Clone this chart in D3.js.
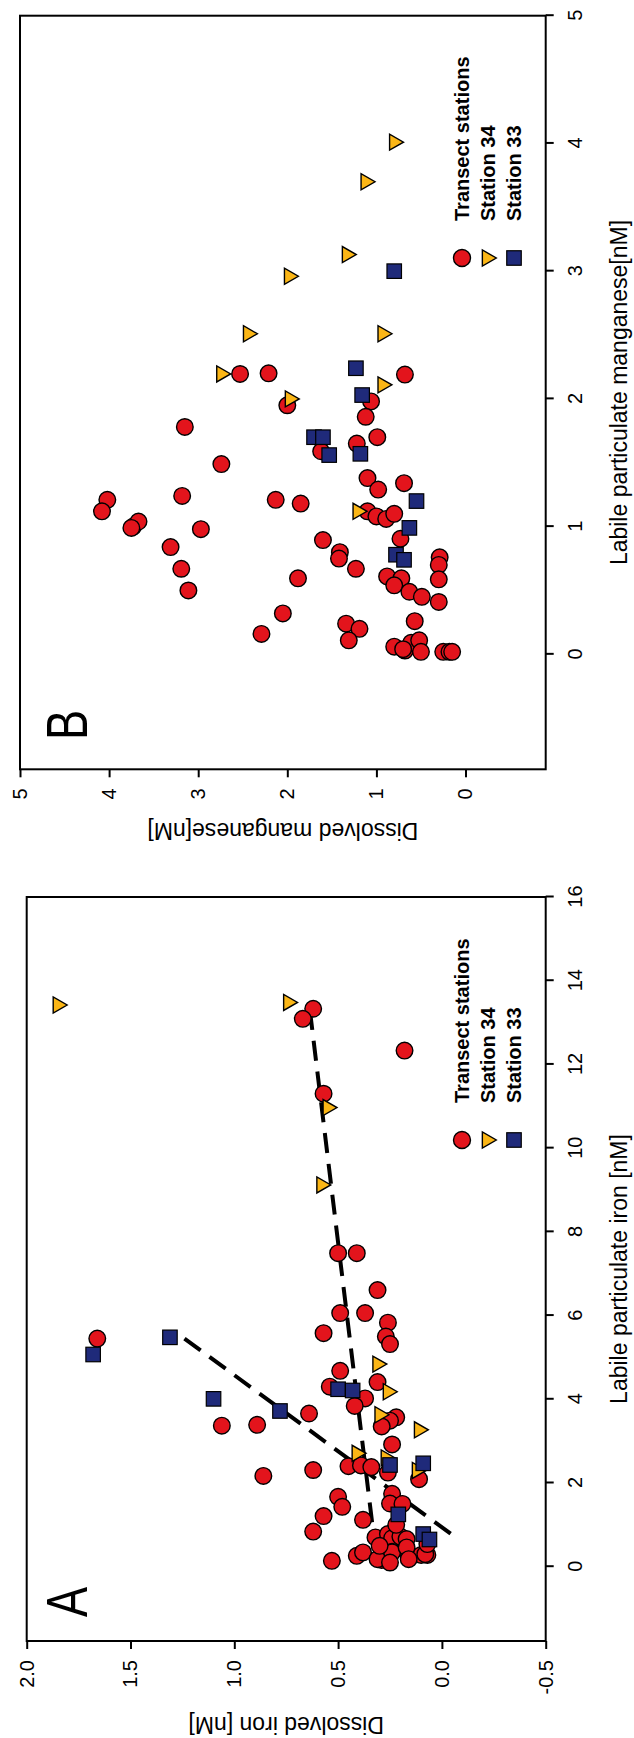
<!DOCTYPE html>
<html><head><meta charset="utf-8">
<script src="https://cdn.jsdelivr.net/npm/d3@7"></script>
<style>body{margin:0;background:#fff;}svg{display:block}</style>
</head><body>
<script>
// ---------- DATA (Panel A: labile particulate Fe [nM] vs dissolved Fe [nM]) ----------
const transectFe = [
 [13.33,0.62],[13.09,0.67],[12.33,0.18],[11.30,0.57],
 [7.49,0.50],[7.49,0.41],[6.61,0.31],[6.06,0.49],[6.06,0.37],[5.83,0.26],[5.58,0.57],[5.50,0.27],[5.32,0.25],[5.45,1.66],
 [4.68,0.49],[4.30,0.54],[4.41,0.31],[4.02,0.37],[3.84,0.42],[3.66,0.64],[3.37,1.06],[3.39,0.89],
 [3.57,0.22],[3.49,0.25],[3.35,0.29],[2.92,0.24],[2.40,0.45],[2.42,0.39],[2.38,0.34],[2.25,0.26],[2.09,0.11],[2.31,0.62],[2.17,0.86],
 [1.67,0.50],[1.43,0.48],[1.74,0.24],[1.51,0.25],[1.50,0.19],[1.21,0.57],[1.12,0.38],[0.84,0.62],
 [0.70,0.32],[0.78,0.26],[0.68,0.24],[0.72,0.20],[0.66,0.17],[1.00,0.22],
 [0.36,0.24],[0.40,0.17],[0.28,0.10],[0.28,0.07],[0.16,0.29],[0.14,0.53],[0.26,0.41],[0.34,0.38],
 [0.18,0.31],[0.34,0.24],[0.10,0.25],[0.46,0.17],[0.18,0.16],[0.30,0.08],[0.54,0.07],[0.50,0.30]
];
const station34Fe = [
 [13.42,1.85],[13.48,0.74],[10.97,0.55],[9.12,0.58],[4.84,0.31],[4.18,0.26],[3.63,0.30],[3.27,0.11],[2.71,0.41],[2.60,0.27],[2.30,0.12]
];
const station33Fe = [
 [5.48,1.31],[5.07,1.68],[4.24,0.50],[4.21,0.43],[4.01,1.10],[3.72,0.78],[2.43,0.25],[2.47,0.09],[1.25,0.21],[0.78,0.09],[0.65,0.06]
];
const fitTransectFe = [[13.3,0.636],[0.6,0.325]];
const fitStation33Fe = [[5.45,1.24],[0.64,-0.083]];
const feXTicks = [0,2,4,6,8,10,12,14,16];
const feYTicks = [-0.5,0.0,0.5,1.0,1.5,2.0];

// ---------- DATA (Panel B: labile particulate Mn [nM] vs dissolved Mn [nM]) ----------
const transectMn = [
 [2.195,2.53],[2.20,2.21],[2.19,0.68],[1.95,2.00],[1.98,1.06],[1.86,1.12],[1.78,3.15],[1.70,0.99],[1.65,1.22],[1.59,1.62],
 [1.49,2.74],[1.38,1.10],[1.29,0.98],[1.34,0.69],[1.24,3.18],[1.21,4.02],[1.12,4.08],[1.21,2.13],[1.18,1.85],[1.12,1.10],
 [1.08,1.00],[1.06,0.89],[1.10,0.80],[1.00,3.73],[1.04,3.67],[0.99,3.75],[0.98,2.97],[0.905,0.73],[0.895,1.60],[0.84,3.31],
 [0.80,1.41],[0.75,1.42],[0.67,1.23],[0.67,3.19],[0.76,0.29],[0.70,0.30],[0.587,0.30],[0.41,0.30],[0.595,1.88],[0.61,0.88],
 [0.595,0.72],[0.54,0.80],[0.50,3.11],[0.49,0.63],[0.45,0.49],[0.32,2.05],[0.16,2.29],[0.24,1.34],[0.20,1.19],[0.11,1.31],
 [0.26,0.57],[0.06,0.80],[0.03,0.68],[0.09,0.61],[0.11,0.52],[0.02,0.50],[0.04,0.70],[0.02,0.25],[0.02,0.18],[0.02,0.15]
];
const station34Mn = [
 [4.01,0.80],[3.70,1.12],[3.13,1.33],[2.96,1.98],[2.51,2.44],[2.51,0.93],[2.195,2.74],[2.11,0.93],[2.00,1.97],[1.12,1.21]
];
const station33Mn = [
 [3.00,0.80],[2.24,1.23],[2.03,1.16],[1.70,1.70],[1.70,1.60],[1.56,1.53],[1.57,1.18],[1.20,0.55],[0.99,0.63],[0.78,0.78],[0.74,0.69]
];
const mnXTicks = [0,1,2,3,4,5];
const mnYTicks = [0,1,2,3,4,5];

const legendLabels = ["Transect stations","Station 34","Station 33"];
const titlesFe = {x:"Labile particulate iron [nM]", y:"Dissolved iron [nM]", tag:"A"};
const titlesMn = {x:"Labile particulate manganese[nM]", y:"Dissolved manganese[nM]", tag:"B"};

// ---------- STYLE ----------
const RED = "#e3141c", YEL = "#fbb616", NAVY = "#1f2a7a";
const FONT = "'Liberation Sans', Arial, Helvetica, sans-serif";

const PW = 634, PH = 1738;
const svg = d3.select("body").append("svg").attr("width",PW).attr("height",PH);
svg.append("rect").attr("width",PW).attr("height",PH).attr("fill","#fff");
// The figure is drawn in its native landscape orientation, then turned a quarter-turn counter-clockwise.
const root = svg.append("g").attr("transform",`translate(0,${PH}) rotate(-90)`);

function triPath(cx, cy, s){ // downward-pointing triangle
  const h = s*0.87;
  return `M${cx - s/2},${cy - h/3}L${cx + s/2},${cy - h/3}L${cx},${cy + 2*h/3}Z`;
}

function drawMarkers(g, data, x, y, kind){
  if(kind==="circle"){
    g.selectAll(null).data(data).join("circle")
      .attr("cx",d=>x(d[0])).attr("cy",d=>y(d[1])).attr("r",8.3)
      .attr("fill",RED).attr("stroke","#000").attr("stroke-width",1.4);
  } else if(kind==="tri"){
    g.selectAll(null).data(data).join("path")
      .attr("d",d=>triPath(x(d[0]),y(d[1]),16))
      .attr("fill",YEL).attr("stroke","#000").attr("stroke-width",1.4).attr("stroke-linejoin","miter");
  } else {
    const s = 14.5;
    g.selectAll(null).data(data).join("rect")
      .attr("x",d=>x(d[0])-s/2).attr("y",d=>y(d[1])-s/2).attr("width",s).attr("height",s)
      .attr("fill",NAVY).attr("stroke","#000").attr("stroke-width",1.2);
  }
}

function panel(cfg){
  const g = root.append("g");
  const x = d3.scaleLinear().domain(cfg.xDomain).range(cfg.xRange);
  const y = d3.scaleLinear().domain(cfg.yDomain).range(cfg.yRange);
  const left = cfg.xRange[0], right = cfg.xRange[1], bottom = cfg.yRange[0], top = cfg.yRange[1];

  // x axis
  const ax = g.append("g").attr("transform",`translate(0,${bottom})`)
    .call(d3.axisBottom(x).tickValues(cfg.xTicks).tickSize(8).tickPadding(14).tickFormat(cfg.xFmt));
  ax.select(".domain").remove();
  ax.attr("font-size",20).attr("font-family",FONT);
  ax.selectAll("line").attr("stroke","#000").attr("stroke-width",2);
  ax.selectAll("text").attr("fill","#000");
  // y axis
  const ay = g.append("g").attr("transform",`translate(${left},0)`)
    .call(d3.axisLeft(y).tickValues(cfg.yTicks).tickSize(8).tickPadding(11).tickFormat(cfg.yFmt));
  ay.select(".domain").remove();
  ay.attr("font-size",20).attr("font-family",FONT);
  ay.selectAll("line").attr("stroke","#000").attr("stroke-width",2);
  ay.selectAll("text").attr("fill","#000");

  // titles
  g.append("text").attr("x",(left+right)/2).attr("y",627).attr("text-anchor","middle")
    .attr("font-family",FONT).attr("font-size",23).text(cfg.titles.x);
  g.append("text").attr("transform",`translate(${cfg.yTitleX},${(top+bottom)/2}) rotate(-90)`)
    .attr("text-anchor","middle").attr("font-family",FONT).attr("font-size",23).text(cfg.titles.y);

  // panel tag
  g.append("text").attr("transform",`translate(${cfg.tagX},87) scale(0.78,1)`)
    .attr("font-family",FONT).attr("font-size",58).text(cfg.titles.tag);

  // fit lines
  const line = d3.line().x(d=>x(d[0])).y(d=>y(d[1]));
  (cfg.fits||[]).forEach(f=>{
    g.append("path").attr("d",line(f)).attr("fill","none").attr("stroke","#000")
      .attr("stroke-width",4).attr("stroke-dasharray","20,11");
  });

  // points
  const pg = g.append("g");
  drawMarkers(pg, cfg.circles, x, y, "circle");
  drawMarkers(pg, cfg.tris, x, y, "tri");
  drawMarkers(pg, cfg.squares, x, y, "square");

  // legend
  const lg = g.append("g");
  const rows = [462,488,514];
  const mx = cfg.legendX, tx = cfg.legendX + 37;
  lg.append("circle").attr("cx",mx).attr("cy",rows[0]).attr("r",8.5).attr("fill",RED).attr("stroke","#000").attr("stroke-width",1.4);
  lg.append("path").attr("d",triPath(mx,rows[1]-1,16)).attr("fill",YEL).attr("stroke","#000").attr("stroke-width",1.4);
  lg.append("rect").attr("x",mx-7.25).attr("y",rows[2]-7.25).attr("width",14.5).attr("height",14.5).attr("fill",NAVY).attr("stroke","#000").attr("stroke-width",1.2);
  lg.selectAll(null).data(legendLabels).join("text")
    .attr("x",tx).attr("y",(d,i)=>rows[i]).attr("dy","0.36em")
    .attr("font-family",FONT).attr("font-size",20).attr("font-weight","bold").text(d=>d);

  // frame
  g.append("rect").attr("x",left).attr("y",top).attr("width",right-left).attr("height",bottom-top)
    .attr("fill","none").attr("stroke","#000").attr("stroke-width",2);
}

panel({
  xDomain:[-1.775,16], xRange:[97,841], yDomain:[-0.5,2.0], yRange:[545.7,26.7],
  xTicks:feXTicks, yTicks:feYTicks, xFmt:d=>String(d), yFmt:d=>d.toFixed(1),
  titles:titlesFe, yTitleX:21.5, tagX:121, legendX:598,
  circles:transectFe, tris:station34Fe, squares:station33Fe, fits:[fitTransectFe, fitStation33Fe]
});
panel({
  xDomain:[-0.9,5], xRange:[968.7,1722.3], yDomain:[-0.9,5], yRange:[545.7,20],
  xTicks:mnXTicks, yTicks:mnYTicks, xFmt:d=>String(d), yFmt:d=>String(d),
  titles:titlesMn, yTitleX:915, tagX:998, legendX:1480,
  circles:transectMn, tris:station34Mn, squares:station33Mn, fits:[]
});
</script>
</body></html>
